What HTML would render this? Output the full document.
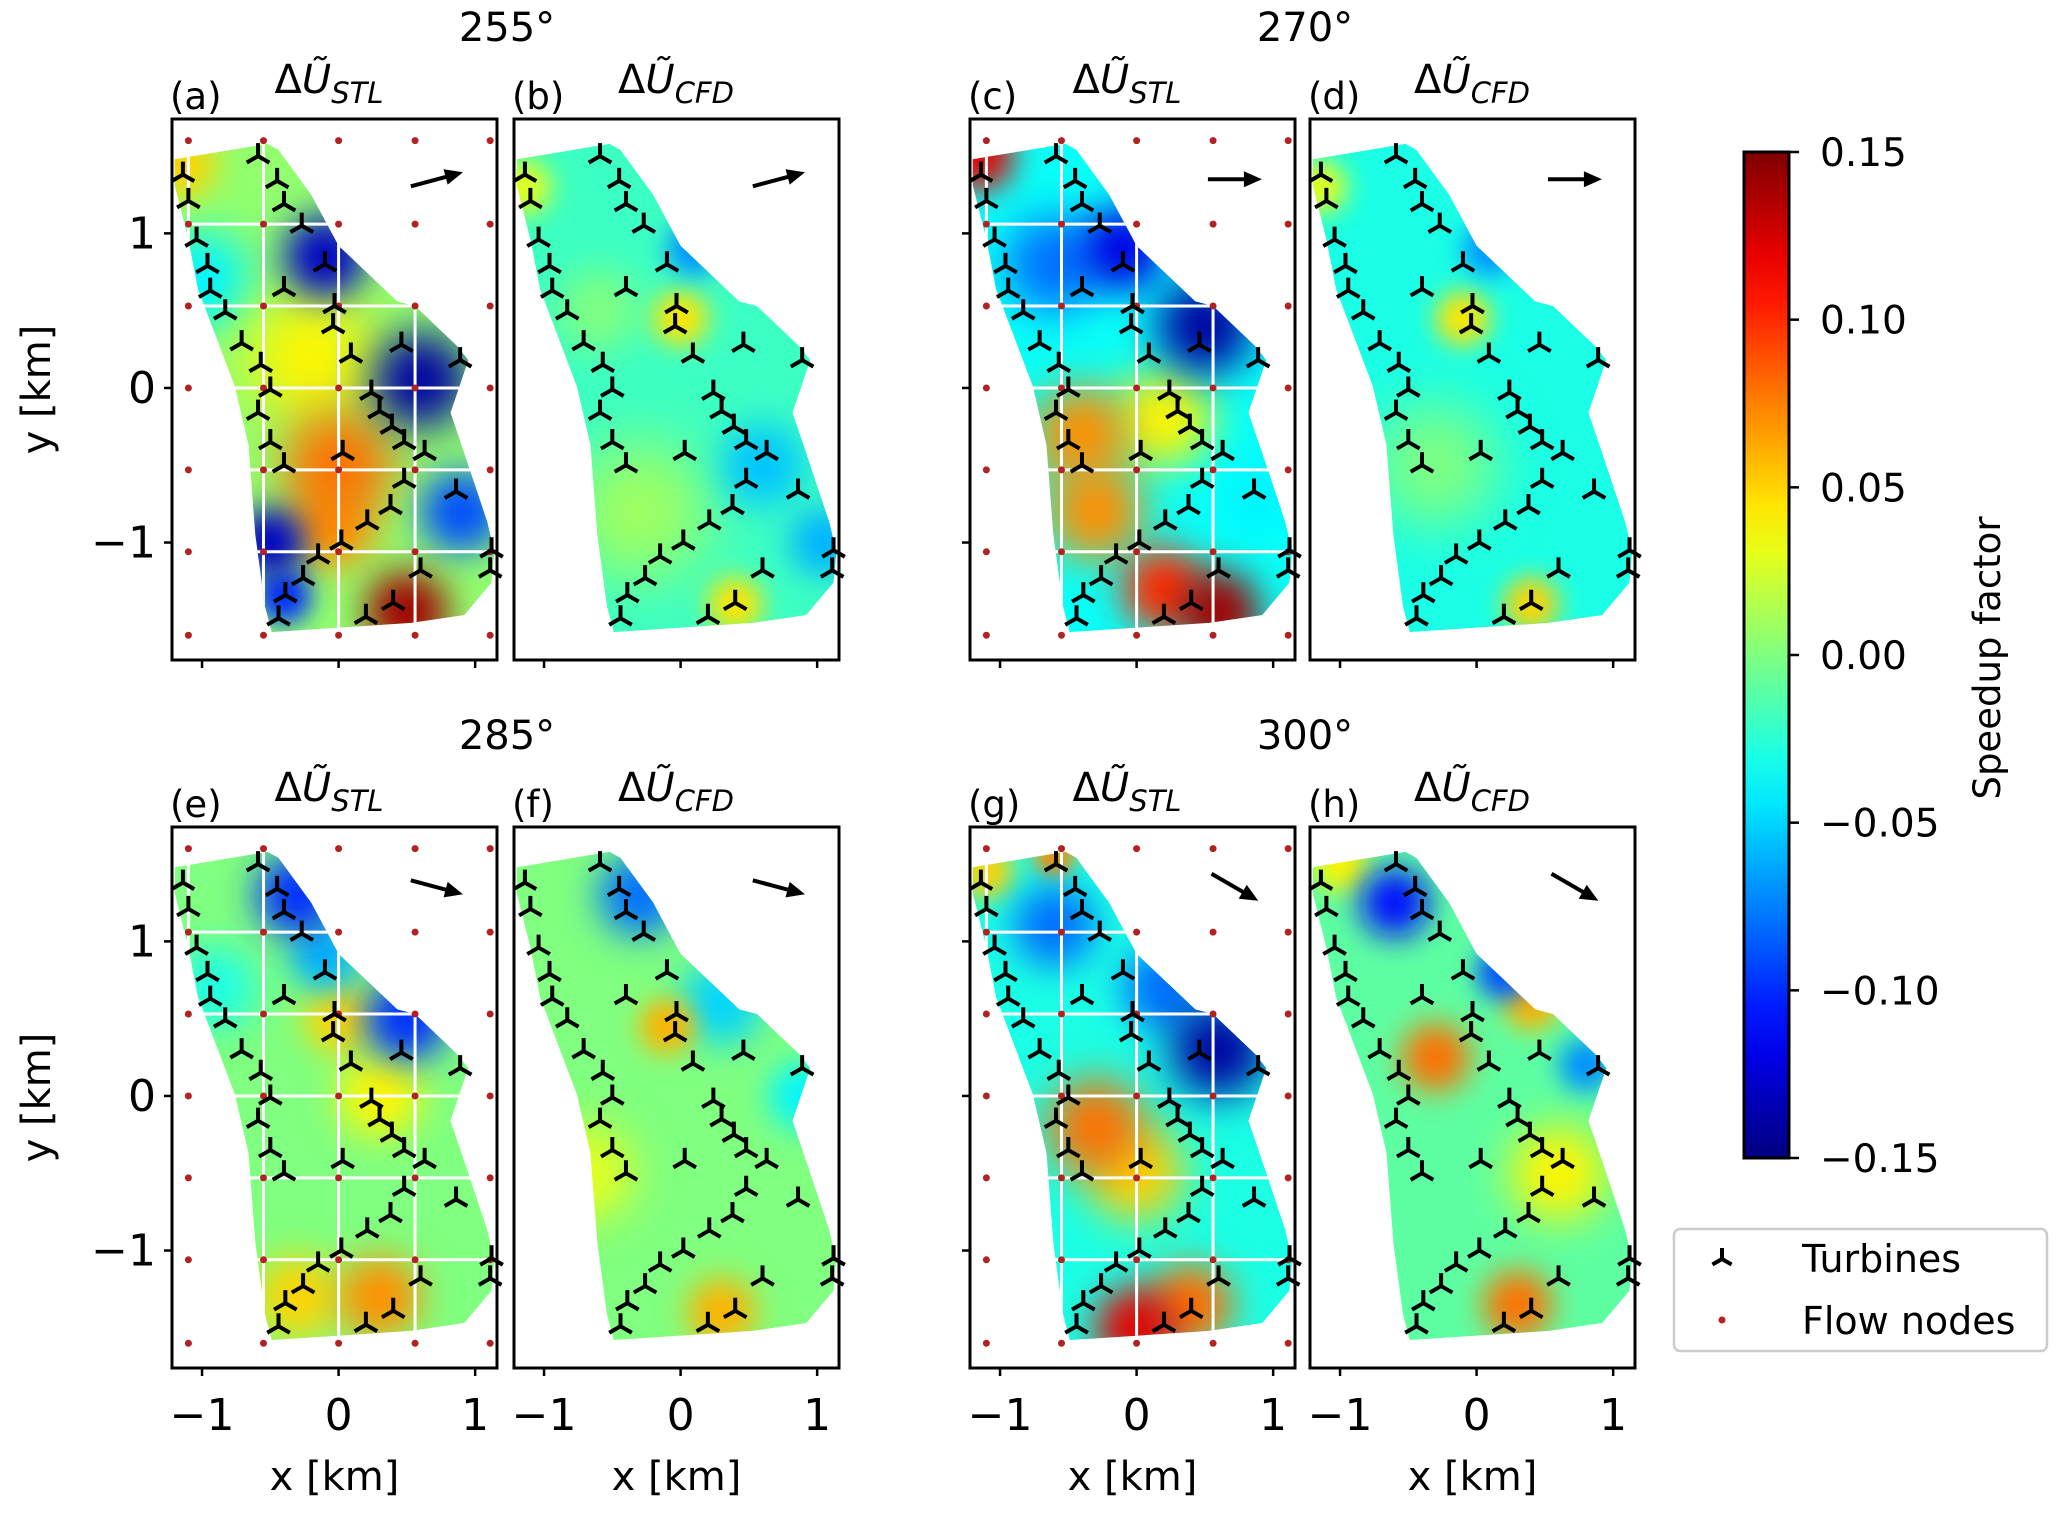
<!DOCTYPE html>
<html><head><meta charset="utf-8"><style>
html,body{margin:0;padding:0;background:#fff;}
svg{display:block;font-family:"DejaVu Sans","Liberation Sans",sans-serif;}
</style></head><body>
<svg id="fig" width="2067" height="1515" viewBox="0 0 2067 1515" xmlns="http://www.w3.org/2000/svg">
<defs id="defs"></defs>
</svg>
<script>
// ---------- data ----------
const turbX = [-1.14,-1.10,-0.59,-0.45,-0.40,-0.27,-0.10,-1.04,-0.96,-0.94,-0.83,-0.71,-0.57,-0.50,-0.59,-0.50,-0.40,-0.40,-0.03,-0.04,0.09,0.46,0.89,0.24,0.30,0.39,0.48,0.63,0.03,0.48,0.86,0.38,0.21,0.02,-0.15,-0.26,-0.39,-0.44,0.20,0.40,0.60,1.12,1.11];
const turbY = [1.38,1.21,1.50,1.34,1.19,1.05,0.80,0.96,0.79,0.63,0.49,0.29,0.15,-0.01,-0.16,-0.35,-0.50,0.64,0.53,0.40,0.21,0.28,0.18,-0.03,-0.15,-0.25,-0.35,-0.42,-0.42,-0.60,-0.67,-0.77,-0.87,-1.00,-1.09,-1.23,-1.34,-1.49,-1.48,-1.39,-1.18,-1.05,-1.18];
const boundX = [-1.20,-0.52,-0.44,-0.20,0.00,0.43,0.56,0.87,0.95,0.82,0.92,1.09,1.14,1.12,0.92,0.53,-0.49,-0.54,-0.61,-0.66,-0.76,-1.03,-1.10,-1.20];
const boundY = [1.48,1.58,1.54,1.25,0.92,0.56,0.53,0.27,0.18,-0.16,-0.42,-0.87,-1.06,-1.26,-1.47,-1.52,-1.58,-1.41,-0.95,-0.37,0.01,0.64,0.96,1.31];
const nodeX = [-1.10,-0.55,0.00,0.56,1.11];
const nodeY = [1.60,1.06,0.53,0.00,-0.53,-1.06,-1.60];
const directions = [255,270,285,300];
const panelLabels = ["(a)","(b)","(c)","(d)","(e)","(f)","(g)","(h)"];
const fieldBase = [0.005,-0.02,-0.035,-0.03,0.0,0.0,-0.03,-0.01];
// blobs: [x, y, radius(km), value]
const fieldA = [[-1.0,0.7,0.35,-0.04],[-0.2,0.2,0.45,0.04],[-1.15,1.45,0.25,0.05],[0.9,-0.8,0.3,-0.09],[0,-0.5,0.4,0.08],[-0.05,-0.9,0.3,0.07],[-0.1,0.85,0.3,-0.13],[0.6,0.05,0.35,-0.14],[-0.5,-1.0,0.25,-0.13],[-0.4,-1.35,0.2,-0.1],[0.5,-1.45,0.3,0.14]];
const fieldB = [[-0.3,-0.8,0.5,0.01],[-1.15,1.3,0.2,0.03],[0,0.45,0.2,0.045],[0.4,-1.4,0.2,0.045],[0.1,0.9,0.2,-0.07],[0.6,-0.5,0.3,-0.055],[1.05,-1.0,0.25,-0.06],[-0.6,0.5,0.3,0.0]];
const fieldC = [[0.2,-0.2,0.35,0.04],[0.9,-0.7,0.3,-0.04],[-0.6,0.8,0.35,-0.08],[-0.4,-0.3,0.35,0.07],[-0.3,-0.8,0.35,0.07],[0.2,-1.3,0.3,0.1],[-0.1,0.9,0.3,-0.12],[-1.15,1.5,0.25,0.12],[0.5,0.4,0.35,-0.14],[0.6,-1.45,0.3,0.14]];
const fieldD = [[-0.3,-0.5,0.45,0.0],[-1.15,1.3,0.2,0.03],[-0.1,0.45,0.2,0.045],[0.4,-1.4,0.2,0.05],[0.1,0.9,0.2,-0.07]];
const fieldE = [[-0.9,0.7,0.3,-0.03],[0.3,0.0,0.3,0.04],[-0.3,-1.3,0.3,0.05],[0,0.5,0.25,0.05],[-0.1,0.9,0.25,-0.06],[0.3,-1.3,0.3,0.07],[-0.3,1.3,0.3,-0.1],[0.5,0.5,0.3,-0.1]];
const fieldF = [[-0.7,-0.5,0.35,0.03],[0.3,0.6,0.3,-0.05],[0.9,0.0,0.25,-0.04],[-0.1,0.45,0.2,0.06],[0.3,-1.4,0.25,0.06],[-0.3,1.3,0.3,-0.08]];
const fieldG = [[0.9,-0.7,0.3,-0.03],[0,-0.5,0.35,0.05],[-1.1,1.45,0.2,0.05],[-0.6,1.55,0.15,0.07],[-0.6,1.1,0.3,-0.08],[0.2,0.7,0.3,-0.08],[-0.3,-0.2,0.35,0.08],[0.4,-1.35,0.3,0.08],[0,-1.5,0.3,0.12],[0.6,0.3,0.35,-0.14]];
const fieldH = [[0.6,-0.5,0.35,0.04],[-1.0,1.5,0.2,0.04],[0.4,0.6,0.2,0.06],[0.8,0.2,0.2,-0.07],[-0.3,0.25,0.25,0.08],[0.3,-1.35,0.25,0.08],[0.2,0.8,0.2,-0.09],[-0.6,1.25,0.25,-0.11]];
const fields = [fieldA,fieldB,fieldC,fieldD,fieldE,fieldF,fieldG,fieldH];
const xTicks = [-1,0,1];
const yTicks = [-1,0,1];
const cbTicks = [0.15,0.10,0.05,0.00,-0.05,-0.10,-0.15];
const cbTickLabels = ["0.15","0.10","0.05","0.00","\u22120.05","\u22120.10","\u22120.15"];

// ---------- layout ----------
const NS = "http://www.w3.org/2000/svg";
const svg = document.getElementById('fig');
const defs = document.getElementById('defs');
const colLeft = [172,514,970,1310];
const rowTop = [119,827];
const PW = 325, PH = 541;
const XMIN = -1.22, XMAX = 1.16, YMIN = -1.76, YMAX = 1.74;
function mk(tag, attrs, parent){ const e=document.createElementNS(NS,tag); for(const k in attrs) e.setAttribute(k,attrs[k]); (parent||svg).appendChild(e); return e; }
function jet(v){
  let t=(v+0.15)/0.3; t=Math.max(0,Math.min(1,t));
  const c=x=>Math.round(255*Math.max(0,Math.min(1,x)));
  return `rgb(${c(1.5-Math.abs(4*t-3))},${c(1.5-Math.abs(4*t-2))},${c(1.5-Math.abs(4*t-1))})`;
}
function txt(x,y,s,size,anchor,parent,name,extra){
  const t=mk('text',Object.assign({x:x,y:y,'font-size':size,'text-anchor':anchor||'start',fill:'#000'},extra||{}),parent);
  t.textContent=s;
  
  
  return t;
}

for(let p=0;p<8;p++){
  const row=Math.floor(p/4), col=p%4;
  const L=colLeft[col], T=rowTop[row];
  const sx=x=>L+(x-XMIN)/(XMAX-XMIN)*PW;
  const sy=y=>T+(YMAX-y)/(YMAX-YMIN)*PH;
  const kmpx=PW/(XMAX-XMIN);
  const g=mk('g',{});
  
  
  const cp=mk('clipPath',{id:'clip'+p},defs);
  const pts=boundX.map((x,i)=>sx(x)+','+sy(boundY[i])).join(' ');
  mk('polygon',{points:pts},cp);
  const fg=mk('g',{'clip-path':'url(#clip'+p+')'},g);
  
  
  mk('polygon',{points:pts,fill:jet(fieldBase[p])},fg);
  const bl=fields[p].slice().sort((a,b)=>Math.abs(a[3])-Math.abs(b[3]));
  bl.forEach((b,i)=>{
    const r=b[2]*kmpx;
    const f=mk('filter',{id:'f'+p+'_'+i,filterUnits:'userSpaceOnUse',x:sx(b[0])-3*r,y:sy(b[1])-3*r,width:6*r,height:6*r},defs);
    mk('feGaussianBlur',{stdDeviation:r*0.45},f);
    const c=mk('circle',{cx:sx(b[0]),cy:sy(b[1]),r:r,fill:jet(b[3]),filter:'url(#f'+p+'_'+i+')'},fg);
    
    
  });
  if(col%2===0){
    [1.06,0.53,0,-0.53,-1.06].forEach(y=>{ mk('line',{x1:sx(-1.22),x2:sx(1.16),y1:sy(y),y2:sy(y),stroke:'#fff','stroke-width':3},fg); });
    [-1.10,-0.55,0,0.56].forEach(x=>{ mk('line',{x1:sx(x),x2:sx(x),y1:sy(1.74),y2:sy(-1.76),stroke:'#fff','stroke-width':3},fg); });
    nodeX.forEach(x=>nodeY.forEach(y=>{
      const d=mk('circle',{cx:sx(x),cy:sy(y),r:3.5,fill:'#b22222'},g);
      
      
    }));
  }
  turbX.forEach((x,i)=>{
    const cx=sx(x), cy=sy(turbY[i]), s=13;
    const tp=mk('path',{d:`M${cx},${cy}V${cy-s}M${cx},${cy}L${cx-s*0.87},${cy+s*0.5}M${cx},${cy}L${cx+s*0.87},${cy+s*0.5}`,stroke:'#000','stroke-width':4,fill:'none'},g);
    
    
  });
  const dir=directions[row*2+Math.floor(col/2)];
  const ang=(270-dir)*Math.PI/180;
  const acx=sx(0.72), acy=sy(1.35), al=27;
  const x1=acx-al*Math.cos(ang), y1=acy+al*Math.sin(ang), x2=acx+al*Math.cos(ang), y2=acy-al*Math.sin(ang);
  const ag=mk('g',{},g);
  
  
  mk('line',{x1:x1,y1:y1,x2:x2-12*Math.cos(ang),y2:y2+12*Math.sin(ang),stroke:'#000','stroke-width':4},ag);
  const px=-Math.sin(ang), py=-Math.cos(ang);
  const bx=x2-18*Math.cos(ang), by=y2+18*Math.sin(ang);
  mk('polygon',{points:`${x2},${y2} ${bx+8*px},${by+8*py} ${bx-8*px},${by-8*py}`,fill:'#000'},ag);
  const fr=mk('rect',{x:L,y:T,width:PW,height:PH,fill:'none',stroke:'#000','stroke-width':3},g);
  
  
  xTicks.forEach(v=>{
    mk('line',{x1:sx(v),x2:sx(v),y1:T+PH,y2:T+PH+8,stroke:'#000','stroke-width':2.5},g);
    if(row===1) txt(sx(v),T+PH+62,v<0?'\u22121':String(v),44,'middle',g,'x-tick-label');
  });
  if(col%2===0) yTicks.forEach(v=>{
    mk('line',{x1:L,x2:L-8,y1:sy(v),y2:sy(v),stroke:'#000','stroke-width':2.5},g);
    if(col===0) txt(L-16,sy(v)+15,v<0?'\u22121':String(v),44,'end',g,'y-tick-label');
  });
  if(row===1) txt(L+PW/2,T+PH+122,'x [km]',40,'middle',g,'x-axis-title');
  if(col===0) txt(50,T+PH/2,'y [km]',40,'middle',g,'y-axis-title',{transform:`rotate(-90 50 ${T+PH/2})`});
  txt(L-2,T-10,panelLabels[p],37,'start',g,'panel-label');
  const st=txt(L+(col%2===0?157:162),T-26,'',40,'middle',g,'panel-subtitle');
  st.innerHTML='\u0394<tspan font-style="italic">\u0168</tspan><tspan font-style="italic" font-size="29" dy="10">'+(col%2===0?'STL':'CFD')+'</tspan>';
  if(col%2===0) txt(L+335,T-78,dir+'\u00b0',40,'middle',g,'direction-title');
}

// ---------- colorbar ----------
const CBX=1744, CBW=45, CBT=152, CBB=1158;
const lg=mk('linearGradient',{id:'jetgrad',x1:0,y1:1,x2:0,y2:0},defs);
for(let i=0;i<=20;i++){ mk('stop',{offset:i/20,'stop-color':jet(-0.15+0.3*i/20)},lg); }
const cb=mk('g',{});


mk('rect',{x:CBX,y:CBT,width:CBW,height:CBB-CBT,fill:'url(#jetgrad)',stroke:'#000','stroke-width':3},cb);
const cy=v=>CBB-(v+0.15)/0.3*(CBB-CBT);
cbTicks.forEach((v,i)=>{
  mk('line',{x1:CBX+CBW,x2:CBX+CBW+10,y1:cy(v),y2:cy(v),stroke:'#000','stroke-width':2.5},cb);
  txt(1820,cy(v)+14,cbTickLabels[i],39,'start',cb,'colorbar-tick-label');
});
txt(2000,658,'Speedup factor',37,'middle',cb,'colorbar-title',{transform:'rotate(-90 2000 658)'});

// ---------- legend ----------
const lgg=mk('g',{});


mk('rect',{x:1674,y:1229,width:373,height:122,rx:6,fill:'#fff',stroke:'#ccc','stroke-width':2.5},lgg);
const s=11, lx=1722, ly=1259;
mk('path',{d:`M${lx},${ly}V${ly-s}M${lx},${ly}L${lx-s*0.87},${ly+s*0.5}M${lx},${ly}L${lx+s*0.87},${ly+s*0.5}`,stroke:'#000','stroke-width':4,fill:'none'},lgg);
mk('circle',{cx:1722,cy:1320,r:3.5,fill:'#b22222'},lgg);
txt(1802,1272,'Turbines',38,'start',lgg,'legend-entry-turbines');
txt(1802,1334,'Flow nodes',38,'start',lgg,'legend-entry-flow-nodes');
</script>
</body></html>
